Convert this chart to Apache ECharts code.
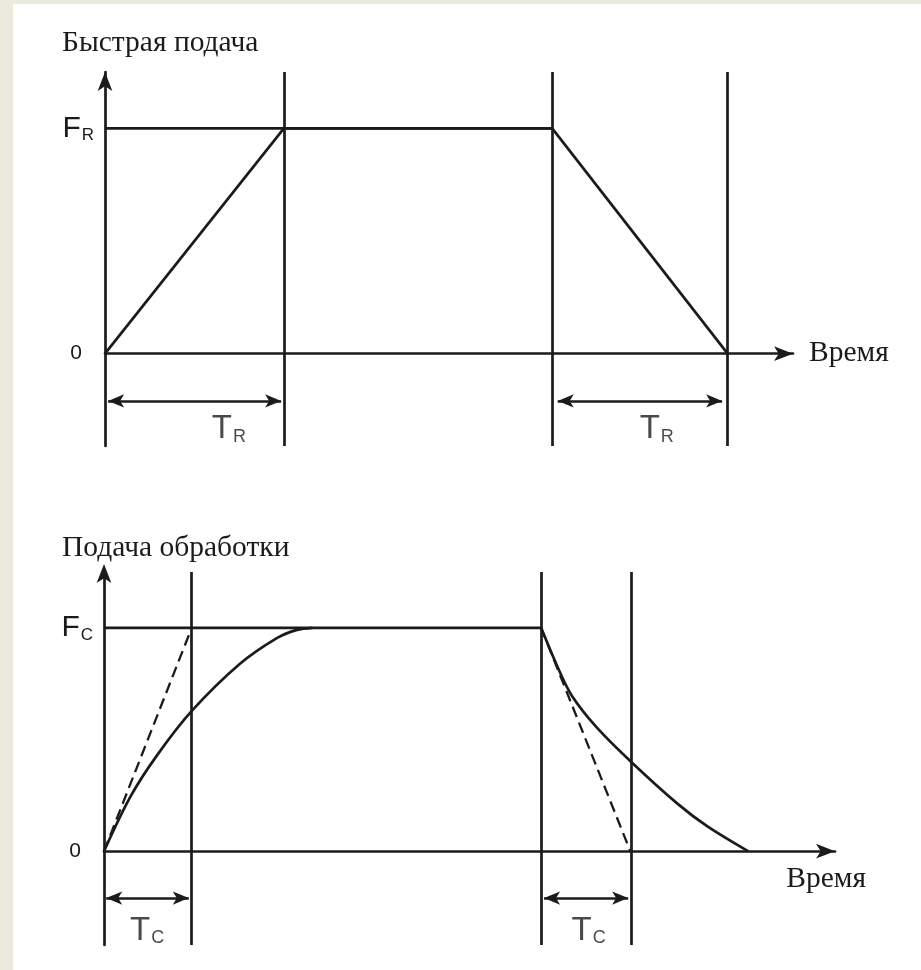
<!DOCTYPE html>
<html>
<head>
<meta charset="utf-8">
<script src="https://cdn.jsdelivr.net/npm/echarts@6/dist/echarts.min.js"></script>
<style>
  html, body { margin: 0; padding: 0; background: #ece9de; }
  #paper { position: absolute; left: 13px; top: 4px; width: 908px; height: 966px; background: #fff; }
  #chart { position: absolute; left: 0; top: 0; width: 921px; height: 970px; }
</style>
</head>
<body>
<div id="paper"></div>
<div id="chart"></div>
<script>
// быстрая подача (верхний график), время в условных единицах 0..100, подача в долях F
var rapidTime = [0, 26, 65, 90.5]
var rapidFeed = [0, 1, 1, 0]
var rapidLevel = [[0, 1], [65, 1]]
var rapidMarks = [26, 65, 90.5]
var rapidSpans = [[0.45, 25.6], [65.8, 89.7]]
var rapidSpanLabelX = [18, 80.2]

// подача обработки (нижний график)
var cutRiseTime = [0, 3.56, 7.25, 12.04, 18.6, 23.7, 26.4, 28.5]
var cutRiseFeed = [0, 0.241, 0.429, 0.629, 0.839, 0.955, 0.991, 1]
var cutFallTime = [59.8, 62.1, 64, 67.4, 72.2, 78.4, 82.5, 88.1]
var cutFallFeed = [1, 0.821, 0.696, 0.554, 0.397, 0.214, 0.112, 0]
var cutLevel = [[0, 1], [59.8, 1]]
var cutDashUp = [[0, 0], [12, 1]]
var cutDashDown = [[59.8, 1], [72, 0]]
var cutMarks = [12, 59.8, 72.1]
var cutSpans = [[0.3, 11.6], [60.2, 71.7]]
var cutSpanLabelX = [5.9, 66.3]

var feedTicks = [0, 1]
var spanY = -0.21
var spanLabelY = [-0.335, -0.355]

var ink = '#1b1b1b'
var sans = 'Liberation Sans'
var serif = 'Liberation Serif'

function zip(xs, ys) {
  return xs.map(function (x, i) { return [x, ys[i]] })
}

function lineSeries(grid, data, extra) {
  var s = {
    type: 'line',
    xAxisIndex: grid,
    yAxisIndex: grid,
    data: data,
    symbol: 'none',
    silent: true,
    lineStyle: { color: ink, width: 2.7 },
  }
  return Object.assign(s, extra || {})
}

function marksSeries(grid, xs) {
  return lineSeries(grid, [], {
    markLine: {
      silent: true,
      symbol: 'none',
      label: { show: false },
      lineStyle: { color: ink, width: 2.7, type: 'solid' },
      data: xs.map(function (x) { return { xAxis: x } }),
    },
  })
}

function spansSeries(grid, spans) {
  return lineSeries(grid, [], {
    markLine: {
      silent: true,
      symbol: ['arrow', 'arrow'],
      symbolSize: [10, 16],
      label: { show: false },
      lineStyle: { color: ink, width: 2.7, type: 'solid' },
      data: spans.map(function (s) {
        return [{ coord: [s[0], spanY] }, { coord: [s[1], spanY] }]
      }),
    },
  })
}

// подписи T с индексом
var subRich = {
  t: { fontFamily: sans, fontSize: 33, color: ink },
  s: { fontFamily: sans, fontSize: 18, color: ink, padding: [15, 0, 0, 1] },
}

function spanLabels(grid, xs, y, sub) {
  return {
    type: 'scatter',
    xAxisIndex: grid,
    yAxisIndex: grid,
    symbolSize: 0,
    silent: true,
    data: xs.map(function (x) { return [x, y] }),
    label: {
      show: true,
      position: 'inside',
      formatter: '{t|T}{s|' + sub + '}',
      rich: subRich,
    },
  }
}

function xAxisFor(grid, nameStyle, gap) {
  return {
    gridIndex: grid,
    type: 'value',
    min: 0,
    max: 100,
    axisLine: {
      onZero: true,
      symbol: ['none', 'arrow'],
      symbolSize: [11, 19],
      lineStyle: { color: ink, width: 2.7 },
    },
    axisTick: { show: false },
    axisLabel: { show: false },
    splitLine: { show: false },
    name: 'Время',
    nameLocation: 'end',
    nameGap: gap,
    nameTextStyle: Object.assign({ fontFamily: serif, fontSize: 29.5, color: ink }, nameStyle),
  }
}

function yAxisFor(grid, min, sub, offset) {
  return {
    gridIndex: grid,
    type: 'value',
    min: min,
    max: 1.25,
    axisLine: {
      show: true,
      onZero: false,
      symbol: ['none', 'arrow'],
      symbolSize: [11, 19],
      symbolOffset: [0, offset],
      lineStyle: { color: ink, width: 2.7 },
    },
    axisTick: { show: false },
    splitLine: { show: false },
    axisLabel: {
      customValues: feedTicks,
      margin: 11,
      formatter: function (v) {
        return v === 1 ? '{f|F}{s|' + sub + '}' : '{z|0}'
      },
      rich: {
        f: { fontFamily: sans, fontSize: 30, color: ink },
        s: { fontFamily: sans, fontSize: 17, color: ink, padding: [14, 0, 0, 1] },
        z: { fontFamily: sans, fontSize: 21, color: ink, padding: [0, 12, 0, 0] },
      },
    },
  }
}

var myChart = echarts.init(document.getElementById('chart'))

var titleStyle = { fontFamily: serif, fontSize: 29.5, fontWeight: 'normal', color: ink }

var option = {
  backgroundColor: 'transparent',
  animation: false,
  title: [
    { text: 'Быстрая подача', left: 62, top: 28, padding: 0, textStyle: titleStyle },
    { text: 'Подача обработки', left: 62, top: 533, padding: 0, textStyle: titleStyle },
  ],
  grid: [
    { left: 105, right: 128, top: 72, height: 374 },
    { left: 104, right: 86, top: 572, height: 373 },
  ],
  xAxis: [
    xAxisFor(0, {}, 16),
    xAxisFor(1, { align: 'right', verticalAlign: 'top', padding: [13, 0, 0, 0] }, 31),
  ],
  yAxis: [
    yAxisFor(0, -0.41, 'R', 0),
    yAxisFor(1, -0.42, 'C', 8),
  ],
  series: [
    lineSeries(0, zip(rapidTime, rapidFeed)),
    lineSeries(0, rapidLevel),
    marksSeries(0, rapidMarks),
    spansSeries(0, rapidSpans),
    spanLabels(0, rapidSpanLabelX, spanLabelY[0], 'R'),

    lineSeries(1, zip(cutRiseTime, cutRiseFeed), { smooth: 0.3 }),
    lineSeries(1, zip(cutFallTime, cutFallFeed), { smooth: 0.3 }),
    lineSeries(1, cutLevel),
    lineSeries(1, cutDashUp, { lineStyle: { color: ink, width: 2.3, type: [11, 6] } }),
    lineSeries(1, cutDashDown, { lineStyle: { color: ink, width: 2.3, type: [11, 6] } }),
    marksSeries(1, cutMarks),
    spansSeries(1, cutSpans),
    spanLabels(1, cutSpanLabelX, spanLabelY[1], 'C'),
  ],
}

myChart.setOption(option)
</script>
</body>
</html>
